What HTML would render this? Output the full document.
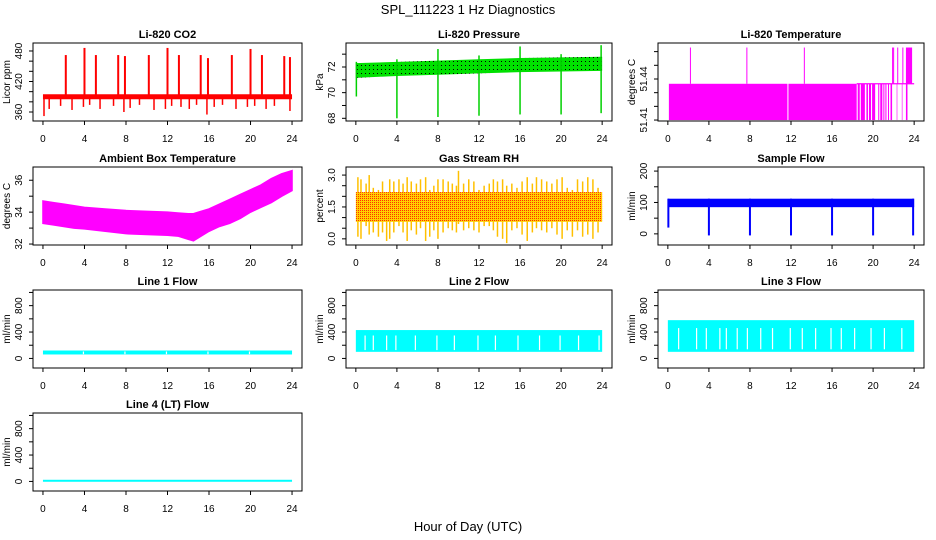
<!DOCTYPE html>
<html><head><meta charset="utf-8">
<style>
html,body{margin:0;padding:0;background:#fff;}
svg{display:block;font-family:"Liberation Sans",Arial,sans-serif;}
</style></head>
<body>
<svg id="chart" width="936" height="540" viewBox="0 0 936 540" xmlns="http://www.w3.org/2000/svg">
<defs>
<pattern id="greenDots" width="4" height="4" patternUnits="userSpaceOnUse"><rect width="4" height="4" fill="#00e000"/><rect x="1" y="1" width="1" height="1" fill="#000"/></pattern>
<pattern id="rhDots" width="2" height="2" patternUnits="userSpaceOnUse"><rect width="2" height="2" fill="#ffd000"/><rect x="0" y="0" width="1" height="1" fill="#ff3000"/></pattern>
</defs>
<text x="468" y="14" text-anchor="middle" font-size="13">SPL_111223  1 Hz Diagnostics</text>
<text x="468" y="531" text-anchor="middle" font-size="13">Hour of Day (UTC)</text>
</svg>
<script>
// ---- data ----
const xTicks = [0,4,8,12,16,20,24];
const co2BandHours = [0,24];
const co2BandLo = [385,385];
const co2BandHi = [395,395];
const co2SpikeHours = [2.2,4.0,5.1,7.25,7.9,10.2,12.0,13.1,15.2,15.9,18.2,20.0,21.1,23.25,23.8];
const co2SpikeVals = [472,486,472,472,470,472,486,472,472,466,472,484,472,470,468];
const co2DipHours = [0.1,0.6,1.7,2.8,3.9,4.5,5.5,6.8,7.8,8.4,9.3,10.7,11.8,12.4,13.3,14.1,14.8,15.8,16.5,17.3,18.6,19.7,20.4,21.5,22.3,23.8];
const co2DipVals = [352,366,372,364,370,374,366,372,360,368,374,364,366,372,370,366,374,355,370,374,366,370,372,366,372,362];

const presHours = [0,4,8,12,16,20,24];
const presLo = [71.15,71.3,71.4,71.5,71.6,71.65,71.7];
const presHi = [72.3,72.4,72.5,72.6,72.7,72.75,72.8];
const presEventHours = [0.05,4,8,12,16,20,23.9];
const presEventMin = [69.7,68.0,68.1,68.2,68.3,68.3,68.4];
const presEventMax = [72.4,72.6,73.4,72.9,73.6,73.0,73.7];

const tempBase = 51.41;
const tempLevel = 51.4365;
const tempSpikeLevel = 51.463;
const tempBlockStarts = [0.1,11.75,18.5,18.8,19.35,19.6,19.9,20.5,20.7,21.0,21.2,21.45,21.7,22.3,22.8,23.2];
const tempBlockEnds = [11.65,18.4,18.7,19.2,19.5,19.8,20.2,20.6,20.9,21.1,21.3,21.55,21.85,22.35,22.85,23.35];
const tempSpikeHours = [2.2,7.7,13.3,21.9,22.0,22.4,22.9];
const tempTopStarts = [23.2];
const tempTopEnds = [23.8];

const ambHours = [0,1,2,3,4,6,8,10,12,13,14,14.5,15,16,17,18,19,20,21,22,23,24];
const ambLo = [33.3,33.2,33.1,33.0,32.95,32.8,32.65,32.6,32.55,32.5,32.3,32.2,32.4,32.8,33.1,33.3,33.6,34.0,34.3,34.6,35.0,35.35];
const ambHi = [34.7,34.6,34.5,34.4,34.3,34.2,34.1,34.05,34.0,33.95,33.9,33.9,34.0,34.2,34.5,34.8,35.1,35.4,35.7,36.1,36.4,36.6];

const rhHours = [0.2,0.5,1.0,1.3,1.7,2.2,2.6,3.0,3.3,3.7,4.2,4.6,5.0,5.4,5.9,6.3,6.8,7.2,7.6,8.0,8.5,9.0,9.4,9.8,10.0,10.5,11.0,11.5,12.0,12.5,13.0,13.4,13.8,14.3,14.7,15.2,15.7,16.2,16.7,17.2,17.6,18.1,18.6,19.1,19.6,20.1,20.6,21.1,21.6,22.1,22.6,23.1,23.6];
const rhHigh = [2.9,2.8,2.6,3.0,2.4,2.3,2.7,2.2,2.8,2.7,2.8,2.6,2.9,2.7,2.6,2.8,2.9,2.3,2.5,2.8,2.8,2.7,2.6,2.5,3.2,2.6,2.8,2.7,2.3,2.5,2.6,2.8,2.7,2.8,2.5,2.6,2.4,2.7,2.9,2.6,2.9,2.8,2.7,2.6,2.8,2.9,2.4,2.3,2.8,2.7,2.9,2.8,2.4];
const rhLow = [0.1,0.0,0.6,0.2,0.3,0.1,0.3,-0.1,0.0,0.3,0.6,0.3,-0.1,0.4,0.2,0.5,-0.1,0.1,0.4,0.0,0.3,0.5,0.4,0.3,0.7,0.4,0.5,0.4,0.3,0.6,0.6,0.4,0.1,0.0,-0.2,0.4,0.5,0.2,-0.1,0.3,0.5,0.4,0.3,0.5,0.2,0.0,0.4,0.1,0.4,0.1,0.2,0.0,0.3];
const rhCoreLo = 0.8;
const rhCoreHi = 2.2;

const sfLo = 85;
const sfHi = 112;
const sfDropHours = [0.05,4,8,12,16,20,23.9];
const sfDropVals = [20,-5,-5,-5,-5,-5,-5];

const l1Lo = 60, l1Hi = 120;
const l1GapHours = [3.9,7.9,11.9,15.9,19.9];
const l2Lo = 100, l2Hi = 430;
const l2GapHours = [0.9,1.7,3.0,3.9,5.8,7.9,9.6,11.9,13.6,15.8,17.9,19.9,21.7,23.7];
const l3Lo = 100, l3Hi = 580;
const l3GapHours = [1.05,2.8,3.75,5.07,5.7,6.76,7.75,9.05,10.2,11.93,13.1,14.4,15.9,16.9,18.2,19.8,21.1,22.8];
const l4Lo = -5, l4Hi = 25;

// ---- layout ----
const svg = document.getElementById('chart');
const NS = 'http://www.w3.org/2000/svg';
const colX0 = [33,346,658], colX1 = [302,612,924];
const rowY0 = [43,167,290,413], boxH = 78;

function mk(tag, attrs, parent){
  const e = document.createElementNS(NS, tag);
  for (const k in attrs) e.setAttribute(k, attrs[k]);
  (parent||svg).appendChild(e);
  return e;
}

function makePanel(name, title, ylab, col, row, usr, ticks, labels){
  const g = mk('g', {});
  
  
  const x0 = colX0[col], x1 = colX1[col], y0 = rowY0[row], y1 = y0 + boxH;
  const pad = (x1 - x0) * 0.04 / 1.08;
  const sx = h => x0 + pad + (h / 24) * (x1 - x0 - 2 * pad);
  const sy = v => y1 - (v - usr[0]) / (usr[1] - usr[0]) * boxH;
  const plot = mk('g', {}, g);
  
  
  const box = mk('rect', {x:x0, y:y0, width:x1-x0, height:boxH, fill:'none', stroke:'#000', 'stroke-width':1}, g);
  
  
  const t = mk('text', {x:(x0+x1)/2, y:y0-5, 'text-anchor':'middle', 'font-size':11, 'font-weight':'bold'}, g);
  
  
  t.textContent = title;
  const xa = mk('g', {}, g);
  
  
  mk('line', {x1:sx(xTicks[0]), x2:sx(xTicks[xTicks.length-1]), y1:y1, y2:y1, stroke:'#000'}, xa);
  xTicks.forEach(v => {
    mk('line', {x1:sx(v), x2:sx(v), y1:y1, y2:y1+4, stroke:'#000'}, xa);
    const l = mk('text', {x:sx(v), y:y1+21, 'text-anchor':'middle', 'font-size':10}, xa);
    
    
    l.textContent = v;
  });
  const ya = mk('g', {}, g);
  
  
  mk('line', {x1:x0, x2:x0, y1:sy(ticks[0]), y2:sy(ticks[ticks.length-1]), stroke:'#000'}, ya);
  ticks.forEach(v => mk('line', {x1:x0-4, x2:x0, y1:sy(v), y2:sy(v), stroke:'#000'}, ya));
  labels.forEach(lbl => {
    const v = parseFloat(lbl);
    const l = mk('text', {x:0, y:0, 'text-anchor':'middle', 'font-size':10, transform:`translate(${x0-11},${sy(v)}) rotate(-90)`}, ya);
    
    
    l.textContent = lbl;
  });
  const yl = mk('text', {x:0, y:0, 'text-anchor':'middle', 'font-size':10, transform:`translate(${x0-23},${(y0+y1)/2}) rotate(-90)`}, ya);
  
  
  yl.textContent = ylab;
  return {plot, sx, sy};
}

function bandPath(P, hours, lo, hi){
  let d = '';
  hours.forEach((h,i)=>{ d += (i?'L':'M') + P.sx(h) + ',' + P.sy(hi[i]); });
  for (let i = hours.length-1; i >= 0; i--) d += 'L' + P.sx(hours[i]) + ',' + P.sy(lo[i]);
  return d + 'Z';
}
function vline(P, h, a, b, color, w, nm){
  const e = mk('line', {x1:P.sx(h), x2:P.sx(h), y1:P.sy(a), y2:P.sy(b), stroke:color, 'stroke-width':w}, P.plot);
  
  
}
function rectH(P, h0, h1, a, b, fill, nm){
  const e = mk('rect', {x:P.sx(h0), y:P.sy(b), width:Math.max(P.sx(h1)-P.sx(h0),0.6), height:P.sy(a)-P.sy(b), fill:fill}, P.plot);
  
  
}

// CO2
{
  const P = makePanel('co2-panel','Li-820 CO2','Licor ppm',0,0,[342.3,495.7],[360,380,400,420,440,460,480],['360','420','480']);
  const b = mk('path', {d:bandPath(P,co2BandHours,co2BandLo,co2BandHi), fill:'#ff0000'}, P.plot);
  
  
  co2SpikeHours.forEach((h,i)=>vline(P,h,390,co2SpikeVals[i],'#ff0000',2,'co2-spike'));
  co2DipHours.forEach((h,i)=>vline(P,h,390,co2DipVals[i],'#ff0000',1.5,'co2-dip'));
}
// Pressure
{
  const P = makePanel('pressure-panel','Li-820 Pressure','kPa',1,0,[67.79,73.87],[68,69,70,71,72,73],['68','70','72']);
  const b = mk('path', {d:bandPath(P,presHours,presLo,presHi), fill:'url(#greenDots)'}, P.plot);
  
  
  presEventHours.forEach((h,i)=>vline(P,h,presEventMin[i],presEventMax[i],'#00d000',1.5,'pressure-event'));
}
// Li-820 Temperature
{
  const P = makePanel('li820-temp-panel','Li-820 Temperature','degrees C',2,0,[51.4093,51.4663],[51.41,51.42,51.43,51.44,51.45,51.46],['51.41','51.44']);
  tempBlockStarts.forEach((s,i)=>rectH(P,s,tempBlockEnds[i],tempBase,tempLevel,'#ff00ff','temp-block'));
  const l = mk('line',{x1:P.sx(18.4),x2:P.sx(24),y1:P.sy(tempLevel),y2:P.sy(tempLevel),stroke:'#ff00ff','stroke-width':1.2},P.plot);
  
  
  tempSpikeHours.forEach(h=>vline(P,h,tempLevel,tempSpikeLevel,'#ff00ff',1,'temp-spike'));
  tempTopStarts.forEach((s,i)=>rectH(P,s,tempTopEnds[i],tempLevel,tempSpikeLevel,'#ff00ff','temp-top-block'));
}
// Ambient
{
  const P = makePanel('ambient-panel','Ambient Box Temperature','degrees C',0,1,[31.94,36.83],[32,33,34,35,36],['32','34','36']);
  const b = mk('path', {d:bandPath(P,ambHours,ambLo,ambHi), fill:'#ff00ff', stroke:'#ff00ff', 'stroke-width':1.5}, P.plot);
  
  
}
// RH
{
  const P = makePanel('rh-panel','Gas Stream RH','percent',1,1,[-0.29,3.38],[0,0.5,1,1.5,2,2.5,3],['0.0','1.5','3.0']);
  rhHours.forEach((h,i)=>vline(P,h,rhLow[i],rhHigh[i],'#ffc000',1.5,'rh-spike'));
  rectH(P,0,24,rhCoreLo,rhCoreHi,'url(#rhDots)','rh-core-band');
}
// Sample flow
{
  const P = makePanel('sample-flow-panel','Sample Flow','ml/min',2,1,[-35.5,213],[0,50,100,150,200],['0','100','200']);
  rectH(P,0,24,sfLo,sfHi,'#0000ff','sample-flow-band');
  sfDropHours.forEach((h,i)=>vline(P,h,sfDropVals[i],sfHi,'#0000ff',2,'sample-flow-drop'));
}
function linePanel(name,title,col,row,lo,hi,gaps){
  const P = makePanel(name,title,'ml/min',col,row,[-145,1037],[0,200,400,600,800,1000],['0','400','800']);
  rectH(P,0,24,lo,hi,'#00ffff',name+'-band');
  gaps.forEach(h=>{
    const e = mk('rect',{x:P.sx(h)-0.6,y:P.sy(hi-(hi-lo)*0.25),width:1.2,height:P.sy(lo+(hi-lo)*0.08)-P.sy(hi-(hi-lo)*0.25),fill:'#fff'},P.plot);
    
    
  });
}
linePanel('line1-flow-panel','Line 1 Flow',0,2,l1Lo,l1Hi,l1GapHours);
linePanel('line2-flow-panel','Line 2 Flow',1,2,l2Lo,l2Hi,l2GapHours);
linePanel('line3-flow-panel','Line 3 Flow',2,2,l3Lo,l3Hi,l3GapHours);
linePanel('line4-flow-panel','Line 4 (LT) Flow',0,3,l4Lo,l4Hi,[]);
</script>
</body></html>
